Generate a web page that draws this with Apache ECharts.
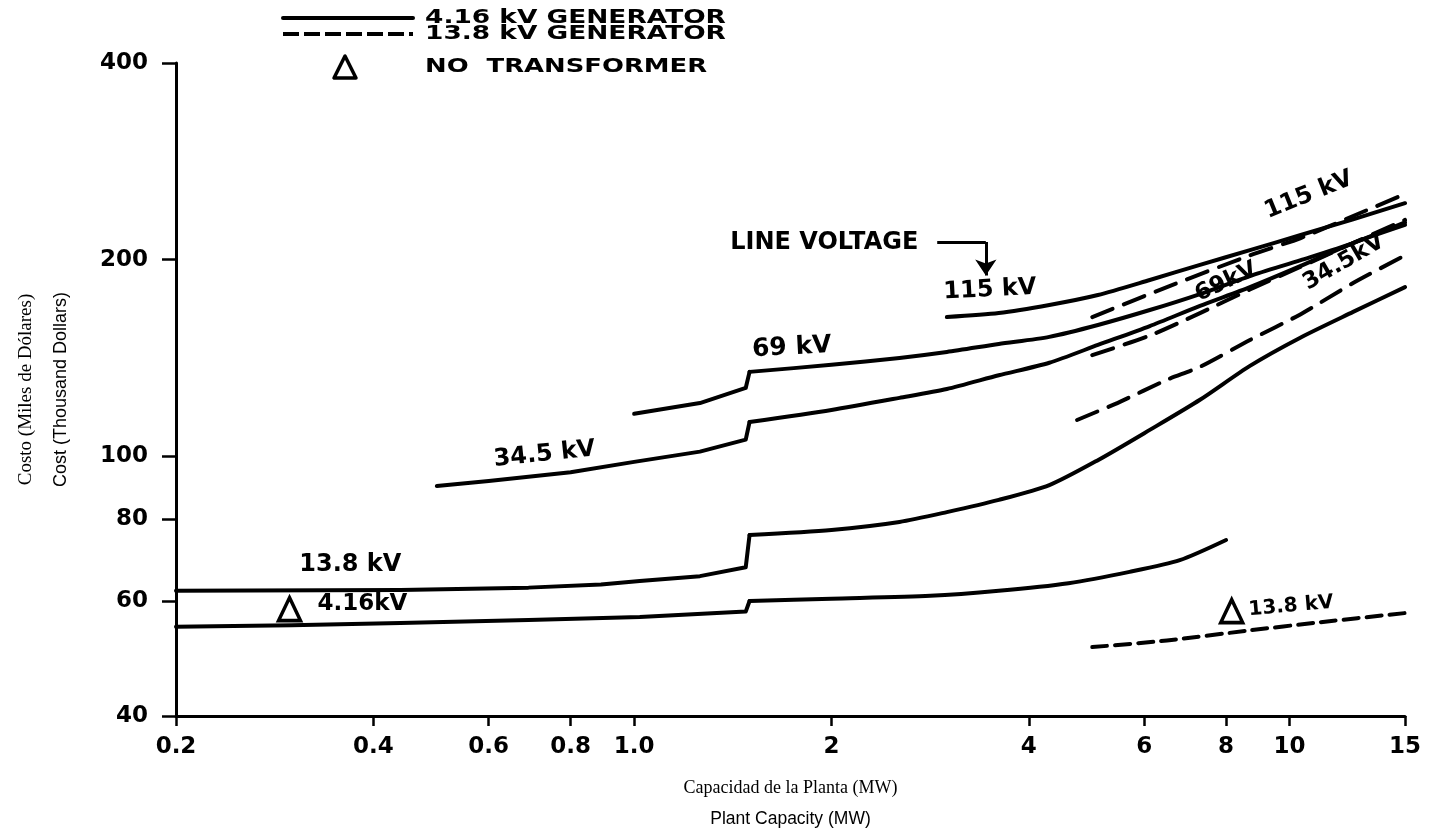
<!DOCTYPE html>
<html>
<head>
<meta charset="utf-8">
<script src="https://cdn.jsdelivr.net/npm/echarts@6/dist/echarts.min.js"></script>
<style>
html,body{margin:0;padding:0;background:#fff;}
#chart{width:1437px;height:835px;}
</style>
</head>
<body>
<div id="chart"></div>
<script>
// ---- tick values ----
const xTicks = [0.2, 0.4, 0.6, 0.8, 1.0, 2, 4, 6, 8, 10, 15];
const xTickLabels = ['0.2', '0.4', '0.6', '0.8', '1.0', '2', '4', '6', '8', '10', '15'];
const yTicks = [40, 60, 80, 100, 200, 400];
const yTickLabels = ['40', '60', '80', '100', '200', '400'];

// ---- 4.16 kV generator (solid) ----
const gen416_noTransformer = [[0.2,54.8],[0.3,55.1],[0.44,55.5],[0.69,56.1],[1.02,56.7],[1.48,57.8],[1.5,60.0],[2.0,60.5],[2.83,61.1],[3.6,62.2],[4.6,63.9],[5.7,66.5],[6.8,69.3],[8.0,74.4]];
const gen416_13_8kV = [[0.2,62.2],[0.44,62.4],[0.69,62.9],[0.89,63.6],[1.02,64.4],[1.26,65.5],[1.48,67.6],[1.5,75.7],[2.0,77.1],[2.54,79.3],[3.0,82.1],[3.6,85.7],[4.3,90.3],[5.1,98.6],[6.12,109.7],[7.3,122],[8.7,137.5],[10.4,152],[12.5,166.3],[15,181.5]];
const gen416_34_5kV = [[0.5,90.0],[0.6,91.6],[0.8,94.5],[1.0,98.0],[1.26,101.6],[1.48,106],[1.5,112.8],[2.0,117.7],[2.54,122.8],[3.0,126.7],[3.6,133],[4.3,139],[5.1,148],[6.12,158.2],[7.3,169.9],[8.7,181.5],[10.4,195.6],[12.5,212],[15,226]];
const gen416_69kV = [[1.0,116.1],[1.26,120.6],[1.48,127.2],[1.5,134.6],[2.0,138],[2.54,141.4],[3.0,144.4],[3.6,148.5],[4.3,152.3],[5.1,158.8],[6.12,167.4],[7.3,177.1],[8.7,188.7],[10.4,199.6],[12.5,212],[15,228]];
const gen416_115kV = [[3.0,163.3],[3.6,165.6],[4.3,170.4],[5.1,176.5],[6.12,186.1],[7.3,196.3],[8.7,206.8],[10.4,218.1],[12.5,230.5],[15,244]];

// ---- 13.8 kV generator (dashed) ----
const gen138_noTransformer = [[5.0,51.0],[6.5,52.2],[8.7,54.1],[11,55.6],[15,57.5]];
const gen138_34_5kV = [[4.74,113.6],[5.5,121],[6.5,130.9],[7.3,137],[8.7,150.6],[10.4,165],[12.5,184.1],[15,203]];
const gen138_69kV = [[5.0,142.8],[6.12,153],[7.3,165.6],[8.7,180],[10.4,195],[12.5,212],[15,230]];
const gen138_115kV = [[5.0,163.3],[6.5,181.5],[8.7,203],[10.4,215.8],[12.5,233.2],[15,252]];

// ---- annotations (data coordinates) ----
const annotations = [
  {text:'13.8 kV', x:0.369, y:68.1, rotate:0, size:24},
  {text:'4.16kV', x:0.385, y:59.4, rotate:0, size:23},
  {text:'34.5 kV', x:0.73, y:100.6, rotate:6, size:24},
  {text:'69 kV', x:1.74, y:146.6, rotate:3, size:25},
  {text:'115 kV', x:3.49, y:179.7, rotate:3, size:24},
  {text:'LINE VOLTAGE', x:1.95, y:212.5, rotate:0, size:24},
  {text:'115 kV', x:10.7, y:251, rotate:22, size:24},
  {text:'69kV', x:8.0, y:184.8, rotate:25, size:23},
  {text:'34.5kV', x:12.1, y:198, rotate:30, size:23},
  {text:'13.8 kV', x:10.05, y:58.9, rotate:5, size:20}
];
const noTransformerMarks = [[0.298,58.3],[8.16,57.9]];
const arrowShaft = [[2.9,212.8],[3.44,212.8]];
const arrowDrop = [[3.44,212.8],[3.44,189]];

const FONT = 'DejaVu Sans';
const chart = echarts.init(document.getElementById('chart'), null, {renderer:'canvas'});

function lineSeries(name, data, dash, smooth){
  return {type:'line', name, data, symbol:'none', z:3,
    smooth: smooth ? 0.25 : false,
    lineStyle:{color:'#000', width:4, type:dash || 'solid', cap:'round', join:'round'}};
}
// a stepped curve: straight part up to and including the jump at 1.5 MW, smooth part after it
function stepped(name, data){
  const k = data.findIndex(p => p[0] === 1.5);
  return [
    lineSeries(name, data.slice(0, k + 1), null, false),
    lineSeries(name, data.slice(k), null, true)
  ];
}

const option = {
  backgroundColor:'#fff',
  animation:false,
  grid:{left:176, right:32, top:63, bottom:119, containLabel:false, outerBoundsMode:'none'},
  xAxis:{
    type:'log', logBase:10, min:0.2, max:15,
    axisLine:{show:true, onZero:false, lineStyle:{color:'#000', width:3}},
    axisTick:{show:true, customValues:xTicks, length:10, inside:false, lineStyle:{color:'#000', width:2.5}},
    minorTick:{show:false},
    axisLabel:{show:true, customValues:xTicks, margin:20, color:'#000', fontFamily:FONT, fontWeight:'bold', fontSize:23,
      formatter:function(v){ const i = xTicks.findIndex(t=>Math.abs(t-v)<1e-6); return i>=0 ? xTickLabels[i] : ''; }},
    splitLine:{show:false},
    name:'{a|Capacidad de la Planta (MW)}\n{b|Plant Capacity (MW)}',
    nameLocation:'middle', nameGap:57,
    nameTextStyle:{align:'center', lineHeight:31,
      rich:{a:{fontFamily:'Liberation Serif', fontSize:18, color:'#000', lineHeight:31},
            b:{fontFamily:'Liberation Sans', fontSize:17.5, color:'#000', lineHeight:31}}}
  },
  yAxis:{
    type:'log', logBase:10, min:40, max:400,
    axisLine:{show:true, onZero:false, lineStyle:{color:'#000', width:3}},
    axisTick:{show:true, customValues:yTicks, length:14, inside:false, lineStyle:{color:'#000', width:2.5}},
    minorTick:{show:false},
    axisLabel:{show:true, customValues:yTicks, margin:28, color:'#000', fontFamily:FONT, fontWeight:'bold', fontSize:23,
      formatter:function(v){ const i = yTicks.findIndex(t=>Math.abs(t-v)<1e-6); return i>=0 ? yTickLabels[i] : ''; }},
    splitLine:{show:false},
    name:'{a|Costo (Miles de Dólares)}\n{b|Cost (Thousand Dollars)}',
    nameLocation:'middle', nameGap:97, nameRotate:90,
    nameTextStyle:{align:'center', lineHeight:35,
      rich:{a:{fontFamily:'Liberation Serif', fontSize:19, color:'#000', lineHeight:35},
            b:{fontFamily:'Liberation Sans', fontSize:18, color:'#000', lineHeight:35}}}
  },
  series:[
    ...stepped('4.16 kV gen, no transformer', gen416_noTransformer),
    ...stepped('4.16 kV gen, 13.8 kV', gen416_13_8kV),
    ...stepped('4.16 kV gen, 34.5 kV', gen416_34_5kV),
    ...stepped('4.16 kV gen, 69 kV', gen416_69kV),
    lineSeries('4.16 kV gen, 115 kV', gen416_115kV, null, true),
    lineSeries('13.8 kV gen, no transformer', gen138_noTransformer, [15,8], true),
    lineSeries('13.8 kV gen, 34.5 kV', gen138_34_5kV, [22,12], true),
    lineSeries('13.8 kV gen, 69 kV', gen138_69kV, [22,12], true),
    lineSeries('13.8 kV gen, 115 kV', gen138_115kV, [22,12], true),
    {
      type:'scatter', name:'labels', z:5, silent:true,
      symbol:'circle', symbolSize:1,
      itemStyle:{color:'rgba(0,0,0,0)', opacity:1},
      data: annotations.map(a=>({value:[a.x,a.y], label:{show:true, formatter:a.text, rotate:a.rotate, fontSize:a.size}})),
      label:{show:true, position:'inside', color:'#000', fontFamily:FONT, fontWeight:'bold', fontSize:23, opacity:1}
    },
    {
      type:'scatter', name:'no transformer', z:6, silent:true,
      symbol:'triangle', symbolSize:[22,23],
      itemStyle:{color:'#fff', borderColor:'#000', borderWidth:3.5, opacity:1},
      data: noTransformerMarks
    },
    {
      type:'lines', name:'arrow shaft', coordinateSystem:'cartesian2d', z:6, silent:true,
      symbol:['none','none'],
      lineStyle:{color:'#000', width:3, opacity:1, curveness:0},
      data:[{coords: arrowShaft}]
    },
    {
      type:'lines', name:'arrow drop', coordinateSystem:'cartesian2d', z:6, silent:true,
      symbol:['none','arrow'], symbolSize:[12,16],
      lineStyle:{color:'#000', width:3, opacity:1, curveness:0},
      data:[{coords: arrowDrop}]
    }
  ],
  graphic:[
    {type:'line', shape:{x1:283, y1:18, x2:413, y2:18}, style:{stroke:'#000', lineWidth:4, lineCap:'round'}},
    {type:'line', shape:{x1:283, y1:34, x2:413, y2:34}, style:{stroke:'#000', lineWidth:4, lineDash:[16,5], lineCap:'butt'}},
    {type:'polygon', shape:{points:[[345,56],[334,78],[356,78]]}, style:{fill:'#fff', stroke:'#000', lineWidth:3.5, lineJoin:'round'}},
    {type:'text', x:425, y:18, scaleX:1.39, style:{text:'4.16 kV GENERATOR', font:'bold 19px "DejaVu Sans"', fill:'#000', textVerticalAlign:'middle', verticalAlign:'middle'}},
    {type:'text', x:425, y:34, scaleX:1.39, style:{text:'13.8 kV GENERATOR', font:'bold 19px "DejaVu Sans"', fill:'#000', textVerticalAlign:'middle', verticalAlign:'middle'}},
    {type:'text', x:425, y:67, scaleX:1.36, style:{text:'NO  TRANSFORMER', font:'bold 19px "DejaVu Sans"', fill:'#000', textVerticalAlign:'middle', verticalAlign:'middle'}}
  ]
};
chart.setOption(option);
</script>
</body>
</html>
